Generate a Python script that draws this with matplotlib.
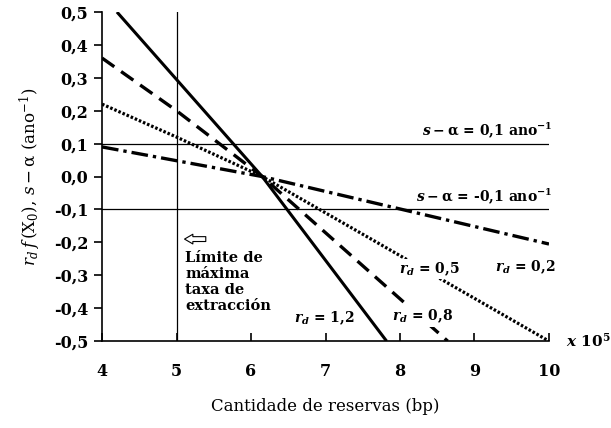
import matplotlib
matplotlib.use("Agg")
import matplotlib.pyplot as plt

# data (x in units of 1e5 bp)
x_rd12 = [4.2, 6.15, 7.82]
y_rd12 = [0.5, 0.0, -0.5]
x_rd08 = [4.0, 5.0, 6.15, 8.64]
y_rd08 = [0.36, 0.20, 0.0, -0.5]
x_rd05 = [4.0, 5.0, 6.15, 10.0]
y_rd05 = [0.22, 0.12, 0.0, -0.5]
x_rd02 = [4.0, 6.15, 10.0]
y_rd02 = [0.09, 0.0, -0.205]

s_alpha = [0.1, -0.1]
x_limit = 5

x_ticks = [4, 5, 6, 7, 8, 9, 10]
y_ticks = [0.5, 0.4, 0.3, 0.2, 0.1, 0.0, -0.1, -0.2, -0.3, -0.4, -0.5]
y_tick_labels = ["0,5", "0,4", "0,3", "0,2", "0,1", "0,0",
                 "-0,1", "-0,2", "-0,3", "-0,4", "-0,5"]

plt.rcParams["font.family"] = "DejaVu Serif"
plt.rcParams["mathtext.fontset"] = "custom"
plt.rcParams["mathtext.rm"] = "DejaVu Serif:bold"
plt.rcParams["mathtext.it"] = "DejaVu Serif:italic:bold"
plt.rcParams["mathtext.bf"] = "DejaVu Serif:bold"

fig = plt.figure(figsize=(6.11, 4.28), dpi=100)
ax = fig.add_axes([0.167, 0.203, 0.7315, 0.769])

# reference lines
for v in s_alpha:
    ax.plot([4, 10], [v, v], color="black", lw=0.9)
ax.plot([x_limit, x_limit], [-0.5, 0.5], color="black", lw=0.9)

ax.plot(x_rd12, y_rd12, color="black", lw=2.2, solid_capstyle="butt")
ax.plot(x_rd08, y_rd08, color="black", lw=2.4, dashes=(4.5, 2.5))
ax.plot(x_rd05, y_rd05, color="black", lw=2.3, dashes=(0.8, 0.6))
ax.plot(x_rd02, y_rd02, color="black", lw=2.4, dashes=(5, 1.5, 1, 1.5))

ax.set_xlim(4, 10)
ax.set_ylim(-0.5, 0.5)
ax.spines["top"].set_visible(False)
ax.spines["right"].set_visible(False)
ax.spines["left"].set_linewidth(1.2)
ax.spines["bottom"].set_linewidth(1.2)
ax.set_xticks(x_ticks)
ax.set_xticklabels([str(t) for t in x_ticks])
ax.set_yticks(y_ticks)
ax.set_yticklabels(y_tick_labels)
ax.tick_params(axis="y", direction="out", length=6, width=1.2, pad=4,
               labelsize=11.5)
ax.tick_params(axis="x", direction="in", length=6, width=1.2, pad=16,
               labelsize=11.5)
for lab in ax.get_xticklabels() + ax.get_yticklabels():
    lab.set_fontweight("bold")

ax.set_ylabel(r"$r_d\,f\,(\mathrm{X}_0),\,s-\mathrm{\alpha}\ (\mathrm{ano}^{-1})$",
              fontsize=12, math_fontfamily="dejavuserif", labelpad=8)
ax.set_xlabel("Cantidade de reservas (bp)", fontsize=12, labelpad=13)

# annotations
white = dict(facecolor="white", edgecolor="none", pad=1)
ax.text(10.05, 0.112, r"$s - \mathrm{\alpha}$ = 0,1 ano$^{-1}$",
        ha="right", va="bottom", fontsize=10, fontweight="bold")
ax.text(10.05, -0.088, r"$s - \mathrm{\alpha}$ = -0,1 ano$^{-1}$",
        ha="right", va="bottom", fontsize=10, fontweight="bold")
ax.text(6.99, -0.43, r"$r_d$ = 1,2", ha="center", va="center",
        fontsize=10, fontweight="bold", bbox=white)
ax.text(8.31, -0.425, r"$r_d$ = 0,8", ha="center", va="center",
        fontsize=10, fontweight="bold", bbox=white)
ax.text(8.40, -0.28, r"$r_d$ = 0,5", ha="center", va="center",
        fontsize=10, fontweight="bold", bbox=white)
ax.text(9.68, -0.275, r"$r_d$ = 0,2", ha="center", va="center",
        fontsize=10, fontweight="bold", bbox=white)
ax.text(5.12, -0.225, "Límite de\nmáxima\ntaxa de\nextracción",
        ha="left", va="top", fontsize=10.5, fontweight="bold",
        linespacing=1.2)
ax.annotate("", xy=(5.07, -0.19), xytext=(5.43, -0.19),
            arrowprops=dict(arrowstyle="simple,head_length=0.6,head_width=0.7,tail_width=0.35",
                            facecolor="white", edgecolor="black", lw=0.8))
ax.text(10.23, -0.5, r"$x$ 10$^5$", ha="left", va="center",
        fontsize=11, fontweight="bold", clip_on=False)

fig.savefig("out.png", dpi=100)
